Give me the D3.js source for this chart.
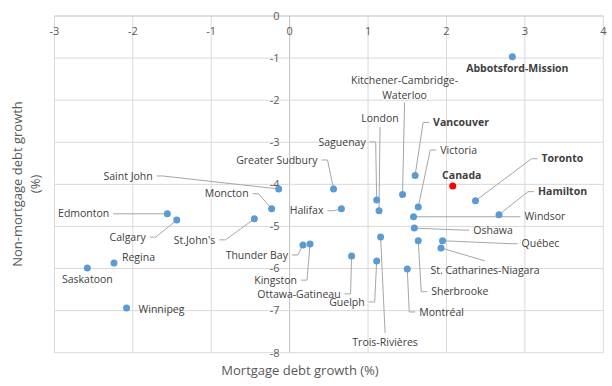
<!DOCTYPE html>
<html lang="en">
<head>
<meta charset="UTF-8"/>
<title>Mortgage vs non-mortgage debt growth</title>
<script src="https://d3js.org/d3.v7.min.js"></script>
<style>
    body{ margin:0; background:#fff; }
    svg text{ font-family:"Open Sans", "Noto Sans", sans-serif; }
</style>
</head>
<body>
<div id="chart"></div>
<script>

    //Chart size
    var w = 612;
    var h = 386;

    //Data
    var cities = ["Abbotsford-Mission", "Canada", "Vancouver", "Greater Sudbury", "Kitchener-Cambridge-Waterloo",
        "Toronto", "Saint John", "London", "Saguenay", "Victoria", "Hamilton", "Windsor", "Halifax", "Moncton",
        "Edmonton", "Calgary", "St.John's", "Oshawa", "Thunder Bay", "Kingston", "Ottawa-Gatineau", "Trois-Rivières",
        "Guelph", "Montréal", "Sherbrooke", "Québec", "St. Catharines-Niagara", "Regina", "Saskatoon", "Winnipeg"];
    var mortgageGrowth = [2.84, 2.08, 1.60, 0.56, 1.44, 2.37, -0.14, 1.14, 1.11, 1.64, 2.67, 1.58, 0.66, -0.23,
        -1.56, -1.44, -0.45, 1.59, 0.17, 0.26, 0.79, 1.16, 1.11, 1.50, 1.64, 1.95, 1.93, -2.24, -2.58, -2.08];
    var nonMortgageGrowth = [-0.97, -4.04, -3.79, -4.11, -4.24, -4.39, -4.11, -4.63, -4.37, -4.54, -4.72, -4.77,
        -4.58, -4.58, -4.70, -4.85, -4.82, -5.04, -5.44, -5.42, -5.70, -5.25, -5.82, -6.01, -5.34, -5.34, -5.51,
        -5.87, -5.99, -6.94];
    var boldCities = ["Abbotsford-Mission", "Canada", "Vancouver", "Toronto", "Hamilton"];
    var xTicks = [-3, -2, -1, 0, 1, 2, 3, 4];
    var yTicks = [0, -1, -2, -3, -4, -5, -6, -7, -8];

    //Label placement (pixel offset from point, anchor, leader type)
    var labelPlace = {
        "Abbotsford-Mission": [5, 12, "middle", "none"],
        "Canada": [9, -11, "middle", "none"],
        "Vancouver": [18, -53, "start", "h"],
        "Greater Sudbury": [-16, -29, "end", "h"],
        "Kitchener-Cambridge-Waterloo": [2, -101, "middle", "vb"],
        "Toronto": [66, -42, "start", "h"],
        "Saint John": [-126, -13, "end", "h"],
        "London": [1, -93, "middle", "vb"],
        "Saguenay": [-11, -58, "end", "h"],
        "Victoria": [22, -57, "start", "h"],
        "Hamilton": [39, -23, "start", "h"],
        "Windsor": [111, 0, "start", "h"],
        "Halifax": [-18, 2, "end", "h"],
        "Moncton": [-23, -15, "end", "h"],
        "Edmonton": [-58, 0, "end", "h"],
        "Calgary": [-31, 17, "end", "h"],
        "St.John's": [-39, 21, "end", "h"],
        "Oshawa": [59, 2, "start", "h"],
        "Thunder Bay": [-15, 10, "end", "h"],
        "Kingston": [-13, 36, "end", "h"],
        "Ottawa-Gatineau": [-11, 38, "end", "h"],
        "Trois-Rivières": [4.5, 105, "middle", "vt"],
        "Guelph": [-12, 41, "end", "h"],
        "Montréal": [12, 43, "start", "h"],
        "Sherbrooke": [13, 51, "start", "h"],
        "Québec": [79, 3, "start", "h"],
        "St. Catharines-Niagara": [44, 22, "middle", "vt"],
        "Regina": [8, -6, "start", "none"],
        "Saskatoon": [0, 11, "middle", "none"],
        "Winnipeg": [12, 1, "start", "none"]
    };

    var dataset = cities.map(function(c, i){
        return {name: c, x: mortgageGrowth[i], y: nonMortgageGrowth[i]};
    });

    var xScale = d3.scaleLinear()
                .domain([-3, 4])
                .range([54.4, 603.3]);

    var yScale = d3.scaleLinear()
                .domain([0, -8])
                .range([16, 352.7]);

    var svg = d3.select("#chart")
                .append("svg")
                .attr("width", w)
                .attr("height", h);

    //Gridlines
    svg.selectAll(".vgrid")
        .data(xTicks)
        .enter()
        .append("line")
        .attr("x1", function(d){ return xScale(d); })
        .attr("x2", function(d){ return xScale(d); })
        .attr("y1", yScale(0))
        .attr("y2", yScale(-8))
        .attr("stroke", function(d){ return d === 0 ? "#bfbfbf" : "#d9d9d9"; })
        .attr("stroke-width", 1);

    svg.selectAll(".hgrid")
        .data(yTicks)
        .enter()
        .append("line")
        .attr("x1", xScale(-3))
        .attr("x2", xScale(4))
        .attr("y1", function(d){ return yScale(d); })
        .attr("y2", function(d){ return yScale(d); })
        .attr("stroke", function(d){ return d === 0 ? "#bfbfbf" : "#d9d9d9"; })
        .attr("stroke-width", 1);

    //Tick labels
    svg.selectAll(".xlab")
        .data(xTicks)
        .enter()
        .append("text")
        .attr("x", function(d){ return xScale(d); })
        .attr("y", yScale(0) + 15)
        .attr("dy", "0.35em")
        .attr("text-anchor", "middle")
        .attr("font-size", "11px")
        .attr("fill", "#595959")
        .text(function(d){ return d; });

    svg.selectAll(".ylab")
        .data(yTicks)
        .enter()
        .append("text")
        .attr("x", xScale(0) - 10)
        .attr("y", function(d){ return yScale(d); })
        .attr("dy", "0.35em")
        .attr("text-anchor", "end")
        .attr("font-size", "11px")
        .attr("fill", "#595959")
        .text(function(d){ return d; });

    //Axis titles
    svg.append("text")
        .attr("x", 300)
        .attr("y", 370)
        .attr("dy", "0.35em")
        .attr("text-anchor", "middle")
        .attr("font-size", "13px")
        .attr("fill", "#595959")
        .text("Mortgage debt growth (%)");

    var yTitle = svg.append("text")
        .attr("transform", "translate(17,184) rotate(-90)")
        .attr("text-anchor", "middle")
        .attr("font-size", "13px")
        .attr("fill", "#595959");
    yTitle.append("tspan").attr("x", 0).attr("dy", "0.35em").text("Non-mortgage debt growth");
    yTitle.append("tspan").attr("x", 0).attr("dy", "1.4em").text("(%)");

    //Leader lines
    var leaders = svg.append("g");
    dataset.forEach(function(d){
        var p = labelPlace[d.name];
        var px = xScale(d.x), py = yScale(d.y);
        var lx = px + p[0], ly = py + p[1];
        var pts = null;
        if (p[3] === "h") {
            var side = p[2] === "start" ? -1 : 1;
            var sx = lx + side * 4;
            pts = [[sx, ly], [sx + side * 6, ly], [px, py]];
        } else if (p[3] === "vb") {
            pts = [[lx, ly + 9], [px, py]];
        } else if (p[3] === "vt") {
            pts = [[lx, ly - 9], [px, py]];
        }
        if (pts) {
            leaders.append("path")
                .attr("d", d3.line()(pts))
                .attr("fill", "none")
                .attr("stroke", "#a6a6a6")
                .attr("stroke-width", 1);
        }
    });

    //Points
    svg.selectAll("circle")
        .data(dataset)
        .enter()
        .append("circle")
        .attr("cx", function(d){ return xScale(d.x); })
        .attr("cy", function(d){ return yScale(d.y); })
        .attr("r", 3.5)
        .attr("fill", function(d){ return d.name === "Canada" ? "#ff0000" : "#5b9bd5"; });

    //Labels
    svg.selectAll(".pointlab")
        .data(dataset)
        .enter()
        .append("text")
        .attr("class", "pointlab")
        .attr("x", function(d){ return xScale(d.x) + labelPlace[d.name][0]; })
        .attr("y", function(d){ return yScale(d.y) + labelPlace[d.name][1]; })
        .attr("dy", "0.35em")
        .attr("text-anchor", function(d){ return labelPlace[d.name][2]; })
        .attr("font-size", "10.5px")
        .attr("font-weight", function(d){ return boldCities.indexOf(d.name) >= 0 ? "bold" : "normal"; })
        .attr("fill", "#404040")
        .each(function(d){
            var t = d3.select(this);
            if (d.name === "Kitchener-Cambridge-Waterloo") {
                var x = xScale(d.x) + labelPlace[d.name][0];
                t.attr("dy", null);
                t.append("tspan").attr("x", x).attr("dy", "-0.9em").text("Kitchener-Cambridge-");
                t.append("tspan").attr("x", x).attr("dy", "1.4em").text("Waterloo");
            } else {
                t.text(d.name);
            }
        });

</script>
</body>
</html>
